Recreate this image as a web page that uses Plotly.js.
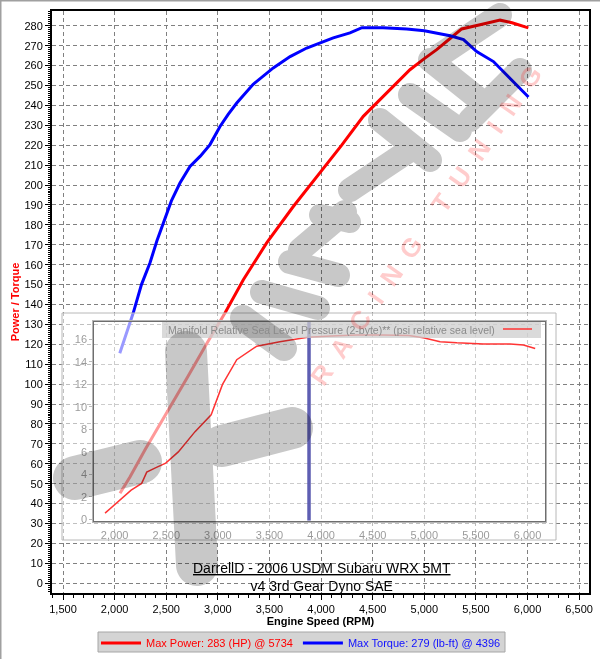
<!DOCTYPE html>
<html>
<head>
<meta charset="utf-8">
<script src="https://cdn.plot.ly/plotly-3.0.1.min.js"></script>
<style>
html,body{margin:0;padding:0;background:#fff;}
#chart{width:600px;height:659px;}
.shapelayer path[data-index="7"]{mix-blend-mode:multiply;}
</style>
</head>
<body>
<div id="chart"></div>
<script>
// ---------------- data ----------------
const torqueRpm = [2050, 2110, 2180, 2260, 2343, 2410, 2472, 2550, 2633, 2730, 2830, 2924, 3021, 3100, 3183, 3340, 3537, 3700, 3861, 4000, 4118, 4280, 4396, 4600, 4830, 5000, 5121, 5250, 5380, 5507, 5670, 5847, 6009];
const torque    = [115.5, 125, 135.7, 150, 161, 172, 181, 192, 201, 209.3, 214.5, 220.3, 229.4, 235.5, 241.2, 250.5, 258.8, 264.5, 268.8, 271.5, 273.9, 276.4, 279, 279, 278.4, 277.5, 276.3, 275, 273, 267, 262, 252.9, 244.2];

const powerRpm = [2052, 2150, 2300, 2500, 2700, 2900, 3069, 3247, 3473, 3731, 3990, 4200, 4409, 4635, 4861, 5000, 5120, 5250, 5362, 5540, 5734, 5850, 6008];
const power    = [45.2, 53.5, 67.5, 85, 103, 121, 135.7, 152.4, 170.9, 189.2, 206, 220, 234.5, 246.2, 257.9, 263.5, 268, 273.6, 278.4, 280.5, 282.8, 281.5, 278.9];

const boostRpm = [1907, 2069, 2160, 2262, 2311, 2400, 2495, 2617, 2779, 2935, 3000, 3045, 3183, 3377, 3600, 3870, 4100, 4346, 4600, 4850, 4990, 5153, 5315, 5573, 5831, 5960, 6074];
const boost    = [0.55, 1.9, 2.6, 3.2, 4.2, 4.6, 5.0, 6.0, 7.8, 9.3, 10.8, 12.0, 14.2, 15.4, 15.8, 16.2, 16.3, 16.4, 16.4, 16.35, 16.15, 15.8, 15.7, 15.6, 15.6, 15.5, 15.2];

const cursorRpm = 3883;

const xTickVals = [1500, 2000, 2500, 3000, 3500, 4000, 4500, 5000, 5500, 6000, 6500];
const insetXTicks = [2000, 2500, 3000, 3500, 4000, 4500, 5000, 5500, 6000];
const insetYTicks = [0, 2, 4, 6, 8, 10, 12, 14, 16];

const powerLabel  = 'Max Power: 283 (HP) @ 5734';
const torqueLabel = 'Max Torque: 279 (lb-ft) @ 4396';
const boostLabel  = 'Manifold Relative Sea Level Pressure (2-byte)** (psi relative sea level)';
const titleLine1  = 'DarrellD - 2006 USDM Subaru WRX 5MT';
const titleLine2  = 'v4 3rd Gear Dyno SAE';

// ---------------- geometry helpers (pixel -> paper) ----------------
const W = 600, H = 659;
const M = {l: 52, r: 11, t: 11, b: 66, autoexpand: false};
const PW = W - M.l - M.r, PH = H - M.t - M.b;
const px = x => (x - M.l) / PW;
const py = y => (H - M.b - y) / PH;

const insetRangeY = [-0.12, 17.55];

function capsule(x1, y1, x2, y2, r) {
  const dx = x2 - x1, dy = y2 - y1, L = Math.hypot(dx, dy) || 1;
  const ux = dx / L, uy = dy / L, nx = -uy, ny = ux, k = 0.5523 * r;
  const P = (x, y) => px(x).toFixed(5) + ',' + py(y).toFixed(5);
  const a1 = [x1 + nx * r, y1 + ny * r], a2 = [x2 + nx * r, y2 + ny * r];
  const b2 = [x2 - nx * r, y2 - ny * r], b1 = [x1 - nx * r, y1 - ny * r];
  const e2 = [x2 + ux * r, y2 + uy * r], e1 = [x1 - ux * r, y1 - uy * r];
  let s = 'M' + P(a1[0], a1[1]) + ' L' + P(a2[0], a2[1]);
  s += ' C' + P(a2[0] + ux * k, a2[1] + uy * k) + ' ' + P(e2[0] + nx * k, e2[1] + ny * k) + ' ' + P(e2[0], e2[1]);
  s += ' C' + P(e2[0] - nx * k, e2[1] - ny * k) + ' ' + P(b2[0] + ux * k, b2[1] + uy * k) + ' ' + P(b2[0], b2[1]);
  s += ' L' + P(b1[0], b1[1]);
  s += ' C' + P(b1[0] - ux * k, b1[1] - uy * k) + ' ' + P(e1[0] - nx * k, e1[1] - ny * k) + ' ' + P(e1[0], e1[1]);
  s += ' C' + P(e1[0] + nx * k, e1[1] + ny * k) + ' ' + P(a1[0] - ux * k, a1[1] - uy * k) + ' ' + P(a1[0], a1[1]) + ' Z';
  return s;
}
// watermark strokes (decorative logo), pixel coords
const logoStrokes = [
  [75, 478, 140, 462, 22], [186, 352, 197, 565, 21], [222, 446, 292, 428, 21],
  [243, 318, 284, 348, 13], [262, 292, 318, 308, 12], [290, 262, 338, 275, 12],
  [300, 250, 345, 212, 12], [320, 215, 350, 222, 11],
  [350, 190, 410, 150, 12], [380, 120, 430, 160, 12], [410, 95, 460, 130, 12],
  [430, 60, 480, 100, 12], [440, 55, 500, 15, 12], [470, 120, 520, 70, 12]
];
const logoPath = logoStrokes.map(s => capsule(s[0], s[1], s[2], s[3], s[4])).join(' ');

// ---------------- traces ----------------
const font = 'Liberation Sans, Arial, sans-serif';
const traces = [
  {x: powerRpm, y: power, type: 'scatter', mode: 'lines', xaxis: 'x', yaxis: 'y',
   line: {color: '#ff0000', width: 3}, name: '<span style="color:#ff0000">' + powerLabel + '</span>'},
  {x: torqueRpm, y: torque, type: 'scatter', mode: 'lines', xaxis: 'x', yaxis: 'y',
   line: {color: '#0000ff', width: 3}, name: '<span style="color:#1010ff">' + torqueLabel + '</span>'},
  {x: boostRpm, y: boost, type: 'scatter', mode: 'lines', xaxis: 'x2', yaxis: 'y2',
   line: {color: '#ff3434', width: 1.5}, showlegend: false, name: boostLabel},
  {x: [cursorRpm, cursorRpm], y: insetRangeY, type: 'scatter', mode: 'lines', xaxis: 'x2', yaxis: 'y2',
   line: {color: '#5e5eb2', width: 3.5}, showlegend: false, hoverinfo: 'skip'}
];

const grid = {showgrid: true, gridcolor: '#808080', gridwidth: 1, griddash: '4px,3px'};

const layout = {
  width: W, height: H,
  margin: M,
  paper_bgcolor: '#ffffff',
  plot_bgcolor: 'rgba(255,255,255,0.6)',
  font: {family: font, size: 11, color: '#000'},
  showlegend: true,
  legend: {orientation: 'h', x: px(301), xanchor: 'center', y: py(628.5), yanchor: 'top',
           bgcolor: 'rgba(0,0,0,0)', borderwidth: 0,
           font: {family: font, size: 11}, itemwidth: 40, tracegroupgap: 0},
  xaxis: Object.assign({
    range: [1393.4, 6595.5], tickvals: xTickVals, tickformat: ',d', automargin: false,
    ticks: 'outside', ticklen: 5, tickcolor: '#000', tickwidth: 1,
    minor: {dtick: 100, tick0: 1500, ticks: 'outside', ticklen: 3, tickcolor: '#000', showgrid: false},
    showline: true, linecolor: '#000', linewidth: 2, mirror: true, zeroline: false,
    tickfont: {family: font, size: 11, color: '#000'},
    title: {text: 'Engine Speed (RPM)', font: {family: font, size: 11, color: '#000', weight: 'bold'}, standoff: 3}
  }, grid),
  yaxis: Object.assign({
    range: [-4.9, 287.4], dtick: 10, tick0: 0, automargin: false,
    ticks: 'outside', ticklen: 5, tickcolor: '#000', tickwidth: 1,
    minor: {dtick: 1, tick0: 0, ticks: 'outside', ticklen: 2, tickcolor: '#000', showgrid: false},
    showline: true, linecolor: '#000', linewidth: 2, mirror: true, zeroline: false,
    tickfont: {family: font, size: 11, color: '#000'},
    title: {text: 'Power / Torque', font: {family: font, size: 11, color: '#ff0000', weight: 'bold'}, standoff: 3}
  }, grid),
  xaxis2: {
    domain: [px(94.3), px(545)], anchor: 'y2', range: [1803, 6169], automargin: false,
    tickvals: insetXTicks, tickformat: ',d', ticks: 'outside', ticklen: 3, tickcolor: '#777',
    showline: true, linecolor: '#6e6e6e', linewidth: 2, mirror: true, zeroline: false, showgrid: false,
    tickfont: {family: font, size: 11, color: '#333'}
  },
  yaxis2: {
    domain: [py(520.7), py(322)], anchor: 'x2', range: insetRangeY, automargin: false,
    tickvals: insetYTicks, ticks: 'outside', ticklen: 3, tickcolor: '#777',
    showline: true, linecolor: '#6e6e6e', linewidth: 2, mirror: true, zeroline: false, showgrid: false,
    tickfont: {family: font, size: 11, color: '#333'}
  },
  shapes: [
    // light bands around inset (outer panel)
    {type: 'rect', xref: 'paper', yref: 'paper', x0: px(62), x1: px(93), y0: py(540), y1: py(313), fillcolor: 'rgba(255,255,255,0.5)', line: {width: 0}, layer: 'above'},
    {type: 'rect', xref: 'paper', yref: 'paper', x0: px(546), x1: px(556), y0: py(540), y1: py(313), fillcolor: 'rgba(255,255,255,0.5)', line: {width: 0}, layer: 'above'},
    {type: 'rect', xref: 'paper', yref: 'paper', x0: px(93), x1: px(546), y0: py(321), y1: py(313), fillcolor: 'rgba(255,255,255,0.5)', line: {width: 0}, layer: 'above'},
    {type: 'rect', xref: 'paper', yref: 'paper', x0: px(93), x1: px(546), y0: py(540), y1: py(522), fillcolor: 'rgba(255,255,255,0.5)', line: {width: 0}, layer: 'above'},
    {type: 'rect', xref: 'paper', yref: 'paper', x0: px(62), x1: px(556), y0: py(540), y1: py(313), fillcolor: 'rgba(0,0,0,0)', line: {color: '#b8b8b8', width: 1}, layer: 'above'},
    // inset legend box + swatch
    {type: 'rect', xref: 'paper', yref: 'paper', x0: px(162), x1: px(541), y0: py(338), y1: py(322), fillcolor: 'rgba(205,205,205,0.75)', line: {width: 0}, layer: 'above'},
    {type: 'line', xref: 'paper', yref: 'paper', x0: px(503), x1: px(532), y0: py(329), y1: py(329), line: {color: '#ff3434', width: 1.5}, layer: 'above'},
    // logo watermark (index 7)
    {type: 'path', xref: 'paper', yref: 'paper', path: logoPath, fillcolor: 'rgb(200,200,200)', fillrule: 'nonzero', line: {width: 0}, layer: 'above'},
    // outer figure border
    {type: 'line', xref: 'paper', yref: 'paper', x0: px(0.5), x1: px(0.5), y0: py(659), y1: py(0), line: {color: '#a0a0a0', width: 2}},
    {type: 'line', xref: 'paper', yref: 'paper', x0: px(0), x1: px(600), y0: py(0.5), y1: py(0.5), line: {color: '#a0a0a0', width: 2}},
    // main legend panel
    {type: 'rect', xref: 'paper', yref: 'paper', x0: px(98), x1: px(505), y0: py(652), y1: py(632), fillcolor: '#d4d4d4', line: {color: '#a6a6a6', width: 1}, layer: 'above'}
  ],
  annotations: [
    {xref: 'paper', yref: 'paper', x: px(322), y: py(577), xanchor: 'center', yanchor: 'middle', showarrow: false,
     text: '<u>' + titleLine1 + '</u><br>' + titleLine2, font: {family: font, size: 14, color: '#000'}},
    {xref: 'paper', yref: 'paper', x: px(166), y: py(330), xanchor: 'left', yanchor: 'middle', showarrow: false,
     text: boostLabel, font: {family: font, size: 10.5, color: '#8a8a8a'}},
    {xref: 'paper', yref: 'paper', x: px(426), y: py(226), xanchor: 'center', yanchor: 'middle', showarrow: false, textangle: -55,
     text: 'R\u00a0\u00a0A\u00a0\u00a0C\u00a0\u00a0I\u00a0\u00a0N\u00a0\u00a0G\u00a0\u00a0\u00a0\u00a0\u00a0T\u00a0\u00a0U\u00a0\u00a0N\u00a0\u00a0I\u00a0\u00a0N\u00a0\u00a0G',
     font: {family: font, size: 26, color: 'rgba(255,0,0,0.2)', weight: 'bold'}}
  ]
};

Plotly.newPlot('chart', traces, layout, {displayModeBar: false, staticPlot: true});
</script>
</body>
</html>
